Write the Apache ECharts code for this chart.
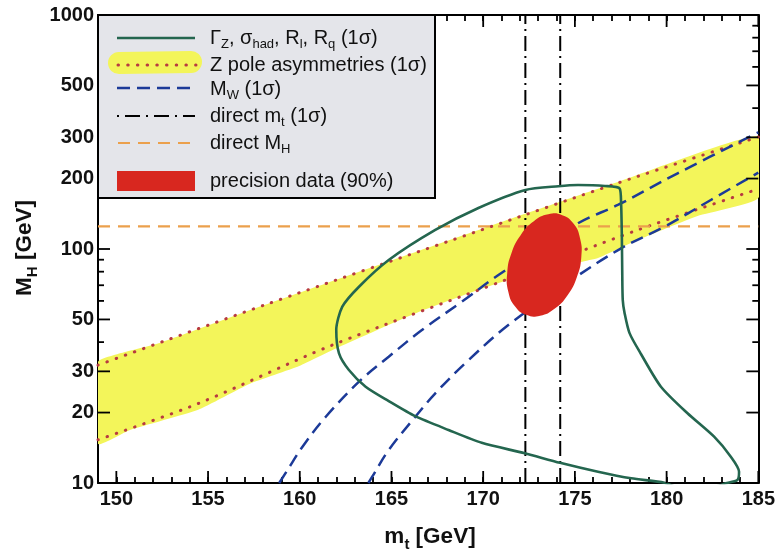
<!DOCTYPE html>
<html><head><meta charset="utf-8">
<script src="https://cdn.jsdelivr.net/npm/echarts@6/dist/echarts.min.js"></script>
<style>html,body{margin:0;padding:0;background:#fff}#c{width:778px;height:551px}</style>
</head><body><div id="c"></div>
<script>
// ---------------- data ----------------
const X_MAJOR = [150, 155, 160, 165, 170, 175, 180, 185];
const X_MINOR = [151,152,153,154,156,157,158,159,161,162,163,164,166,167,168,169,171,172,173,174,176,177,178,179,181,182,183,184];
const Y_MAJOR = [10, 20, 30, 50, 100, 200, 300, 500, 1000];
const Y_MINOR = [40, 60, 70, 80, 90, 400, 600, 700, 800, 900];

// Gamma_Z, sigma_had, R_l, R_q (1 sigma) contour  [m_t, M_H]
const GAMMA_Z_CONTOUR = [
  [180.5, 9.6], [179.88, 10.03], [178.07, 10.47], [176.26, 11.17], [174.19, 12.2],
  [172.27, 13.4], [169.92, 14.85], [168.11, 16.85], [166.3, 19.3], [164.85, 22.4],
  [163.59, 25.8], [162.68, 30.4], [162.14, 35.8], [161.99, 45.1], [162.32, 56.7],
  [163.23, 69.0], [164.85, 89.7], [167.39, 120.6], [169.74, 149.7], [172.3, 178.7],
  [174.1, 185.5], [175.17, 187.7], [176.64, 186.0], [177.44, 181.5], [177.52, 156.4],
  [177.56, 112.6], [177.58, 81.2], [177.61, 60.5], [177.71, 53.2], [177.98, 43.7],
  [178.61, 35.5], [179.69, 25.8], [181.14, 19.86], [182.59, 15.77], [183.5, 12.95],
  [183.95, 11.17], [183.86, 10.3], [183.22, 9.97], [182.5, 9.6], [180.5, 9.6]
];

// Z pole asymmetries: red dotted 1 sigma boundaries
const ZPOLE_UPPER = [[149, 31.9], [158.07, 57.6], [169.9, 120.6], [177.34, 191.4], [185, 301]];
const ZPOLE_LOWER = [[149, 15.3], [154.43, 21.8], [161.65, 38.5], [171.21, 73.7], [178.43, 120.6], [185, 180.5]];
// yellow highlighted band edges
const YELLOW_UPPER = [[149, 32.9], [150.47, 36.3], [152.37, 39.7], [158.07, 57.6], [169.9, 121.8], [177.34, 193.4], [185, 304]];
const YELLOW_LOWER = [[149, 14.7], [150.74, 16.85], [154.43, 20.5], [157.25, 26.5], [159.97, 31.6], [162.14, 38.1],
  [166.48, 53.8], [170.83, 71.6], [175.33, 88], [176.26, 91.5], [178.43, 109.3], [181.69, 138.4], [185, 165.2]];

// M_W (1 sigma) blue dashed curves
const MW_UPPER = [[158.88, 10], [159.33, 11.36], [160.15, 14.29], [161.42, 19.2], [163.23, 27.1], [164.85, 34.65],
  [166.66, 45.06], [168.84, 59.55], [170.83, 77.4], [175.17, 128.8], [177.34, 154.2], [180.6, 210.6], [185, 315]];
const MW_LOWER = [[163.74, 10], [163.95, 10.64], [164.85, 13.84], [166.3, 19.2], [167.39, 24.17], [169.02, 32.48],
  [171.37, 47.33], [174.81, 73.7], [177.52, 100.7], [179.88, 124.5], [182.41, 162], [185, 212]];

// direct m_t (1 sigma) and direct M_H
const DIRECT_MT = [172.3, 174.2];
const DIRECT_MH = 125;

// precision data (90%) region outline
const PRECISION_REGION = [[174.31, 139.5], [174.92, 128.4], [175.28, 111.2], [175.35, 92.4], [175.11, 76.0],
  [174.60, 63.5], [173.89, 55.6], [173.10, 51.9], [172.34, 52.3], [171.73, 56.9], [171.37, 65.6],
  [171.31, 78.9], [171.54, 96.0], [172.05, 114.9], [172.76, 131.3], [173.55, 140.6]];

const X_RANGE = [149, 185];
const Y_RANGE = [10, 1000];

// ---------------- styles ----------------
const FONT = "'Liberation Sans', Arial, Helvetica, sans-serif";
const GREEN = '#24664f', BLUE = '#1c3a98', DOT_RED = '#b83a40', YELLOW = '#f3f55a',
      ORANGE = '#eba04c', RED = '#d8271f';

const lbl = (margin) => ({show: true, margin, fontSize: 20, fontWeight: 'bold', fontFamily: FONT, color: '#111',
  formatter: v => String(Math.round(v))});
const FRAME = {show: true, onZero: false, lineStyle: {color: '#000', width: 2}};
const MINOR_TICK = {show: true, inside: true, length: 6, lineStyle: {color: '#000', width: 1.8}};

function lineS(data, color, width, type, z, smooth, extra) {
  return {type: 'line', data, xAxisIndex: 0, yAxisIndex: 0, showSymbol: false, symbol: 'none',
    smooth: smooth || 0, silent: true, z, clip: true,
    lineStyle: Object.assign({color, width, type}, extra || {})};
}
function polyS(points, fill, z, smooth) {
  return {type: 'custom', coordinateSystem: 'cartesian2d', xAxisIndex: 0, yAxisIndex: 0, clip: true, silent: true, z,
    data: [[170, 100]],
    renderItem: (params, api) => ({type: 'polygon', shape: {points: points.map(p => api.coord(p)), smooth: smooth || 0},
      style: {fill}})};
}
// inward tick marks, placed through the axes' own scales
function tickSeries(values, side, len) {
  const isX = side === 'bottom' || side === 'top';
  const fixed = side === 'bottom' ? Y_RANGE[0] : side === 'top' ? Y_RANGE[1] : side === 'left' ? X_RANGE[0] : X_RANGE[1];
  const dir = (side === 'bottom' || side === 'right') ? -1 : 1;
  return {type: 'custom', coordinateSystem: 'cartesian2d', xAxisIndex: 0, yAxisIndex: 0, clip: false, z: 6,
    data: values.map(v => isX ? [v, fixed] : [fixed, v]),
    renderItem: (params, api) => {
      const a = api.coord([api.value(0), api.value(1)]);
      return isX
        ? {type: 'line', shape: {x1: a[0], y1: a[1], x2: a[0], y2: a[1] + dir * len}, style: {stroke: '#000', lineWidth: 1.8}}
        : {type: 'line', shape: {x1: a[0], y1: a[1], x2: a[0] + dir * len, y2: a[1]}, style: {stroke: '#000', lineWidth: 1.8}};
    }};
}

const LR = {
  n: {fontSize: 20, fontFamily: FONT, fill: '#111'},
  s: {fontSize: 13, fontFamily: FONT, fill: '#111', padding: [13, 0, 0, 0]}
};
const TR = {
  b: {fontSize: 22.5, fontFamily: FONT, fontWeight: 'bold', fill: '#111'},
  s: {fontSize: 15, fontFamily: FONT, fontWeight: 'bold', fill: '#111', padding: [15, 0, 0, 0]}
};
function legText(y, text) {
  return {type: 'text', z: 12, style: {x: 210, y, text, rich: LR, verticalAlign: 'middle', align: 'left'}};
}

const chart = echarts.init(document.getElementById('c'), null, {renderer: 'canvas'});
chart.setOption({
  animation: false,
  grid: {left: 98, right: 17, top: 15, bottom: 68},
  xAxis: [
    {type: 'value', min: X_RANGE[0], max: X_RANGE[1], interval: 1, position: 'bottom', axisLine: FRAME, axisTick: MINOR_TICK,
      axisLabel: Object.assign(lbl(6), {customValues: X_MAJOR}), splitLine: {show: false}},
    {type: 'value', min: X_RANGE[0], max: X_RANGE[1], interval: 1, position: 'top', axisLine: FRAME, axisTick: MINOR_TICK,
      axisLabel: {show: false}, splitLine: {show: false}}
  ],
  yAxis: [
    {type: 'log', logBase: 10, min: Y_RANGE[0], max: Y_RANGE[1], position: 'left', axisLine: FRAME, axisTick: {show: false},
      axisLabel: Object.assign(lbl(4), {customValues: Y_MAJOR}), splitLine: {show: false}},
    {type: 'log', logBase: 10, min: Y_RANGE[0], max: Y_RANGE[1], position: 'right', axisLine: FRAME, axisTick: {show: false},
      axisLabel: {show: false}, splitLine: {show: false}}
  ],
  series: [
    polyS(YELLOW_UPPER.concat(YELLOW_LOWER.slice().reverse()), YELLOW, 1, 0.15),
    lineS(ZPOLE_UPPER, DOT_RED, 3, [0.5, 9.2], 2, 0.3, {cap: 'round'}),
    lineS(ZPOLE_LOWER, DOT_RED, 3, [0.5, 9.2], 2, 0.3, {cap: 'round'}),
    lineS([[X_RANGE[0], DIRECT_MH], [X_RANGE[1], DIRECT_MH]], ORANGE, 2.2, [12, 8], 2),
    lineS(MW_UPPER, BLUE, 2.5, [13, 7], 3, 0.35),
    lineS(MW_LOWER, BLUE, 2.5, [13, 7], 3, 0.35),
    lineS([[DIRECT_MT[0], Y_RANGE[0]], [DIRECT_MT[0], Y_RANGE[1]]], '#000', 2, [15, 5, 2, 5], 3),
    lineS([[DIRECT_MT[1], Y_RANGE[0]], [DIRECT_MT[1], Y_RANGE[1]]], '#000', 2, [15, 5, 2, 5], 3),
    lineS(GAMMA_Z_CONTOUR, GREEN, 2.6, 'solid', 4, 0.25),
    polyS(PRECISION_REGION, RED, 5, 0.5),
    tickSeries(X_MAJOR, 'bottom', 12),
    tickSeries(X_MAJOR, 'top', 12),
    tickSeries(Y_MAJOR, 'left', 12),
    tickSeries(Y_MAJOR, 'right', 12),
    tickSeries(Y_MINOR, 'left', 6),
    tickSeries(Y_MINOR, 'right', 6)
  ],
  graphic: [
    {type: 'rect', z: 10, shape: {x: 98, y: 15, width: 337, height: 183}, style: {fill: '#e4e5ea', stroke: '#000', lineWidth: 2}},
    {type: 'line', z: 11, shape: {x1: 117, y1: 38, x2: 195, y2: 38}, style: {stroke: GREEN, lineWidth: 2.6}},
    {type: 'line', z: 11, shape: {x1: 119, y1: 63, x2: 191, y2: 62}, style: {stroke: YELLOW, lineWidth: 22, lineCap: 'round'}},
    {type: 'line', z: 11, shape: {x1: 118, y1: 65, x2: 196, y2: 65}, style: {stroke: DOT_RED, lineWidth: 3, lineDash: [0.5, 9.2], lineCap: 'round'}},
    {type: 'line', z: 11, shape: {x1: 117, y1: 88, x2: 195, y2: 88}, style: {stroke: BLUE, lineWidth: 2.5, lineDash: [13, 7]}},
    {type: 'line', z: 11, shape: {x1: 117, y1: 116, x2: 195, y2: 116}, style: {stroke: '#000', lineWidth: 2, lineDash: [2, 6, 15, 6]}},
    {type: 'line', z: 11, shape: {x1: 118, y1: 143, x2: 195, y2: 143}, style: {stroke: ORANGE, lineWidth: 2.2, lineDash: [12, 8]}},
    {type: 'rect', z: 11, shape: {x: 117, y: 171, width: 78, height: 20}, style: {fill: RED}},
    legText(38, '{n|Γ}{s|Z}{n|, σ}{s|had}{n|, R}{s|l}{n|, R}{s|q}{n| (1σ)}'),
    legText(65, '{n|Z pole asymmetries (1σ)}'),
    legText(89, '{n|M}{s|W}{n| (1σ)}'),
    legText(116, '{n|direct m}{s|t}{n| (1σ)}'),
    legText(143, '{n|direct M}{s|H}'),
    legText(181, '{n|precision data (90%)}'),
    {type: 'text', z: 12, style: {x: 430, y: 537, text: '{b|m}{s|t}{b| [GeV]}', rich: TR, align: 'center', verticalAlign: 'middle'}},
    {type: 'text', z: 12, x: 25, y: 248, rotation: Math.PI / 2,
      style: {x: 0, y: 0, text: '{b|M}{s|H}{b| [GeV]}', rich: TR, align: 'center', verticalAlign: 'middle'}}
  ]
});
</script></body></html>
